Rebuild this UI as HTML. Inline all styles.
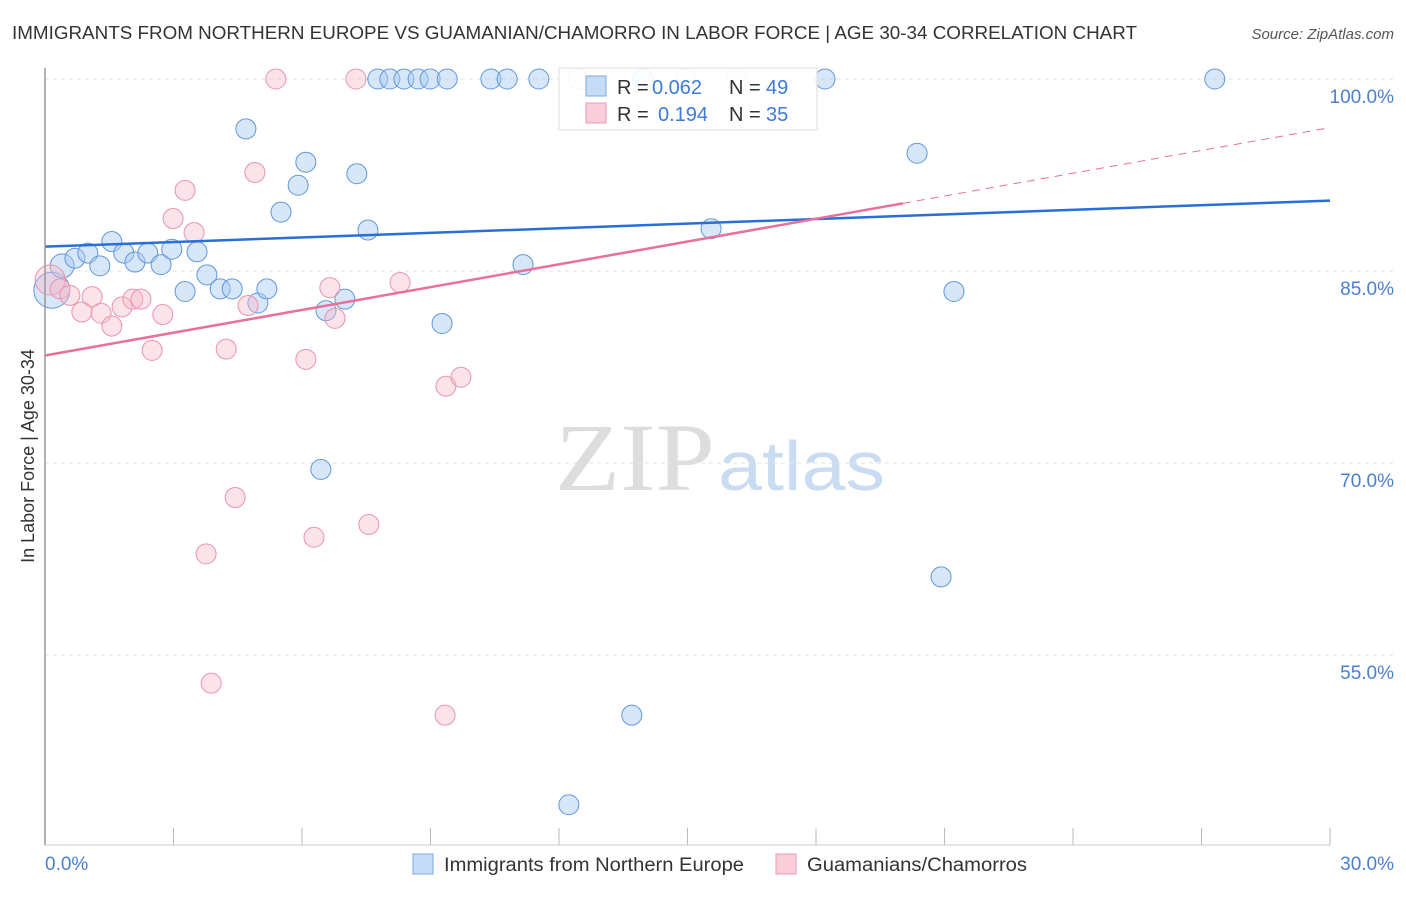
<!DOCTYPE html>
<html><head><meta charset="utf-8"><style>
body{margin:0;background:#fff;font-family:"Liberation Sans",sans-serif}
</style></head><body>
<svg id="c" width="1406" height="892" xmlns="http://www.w3.org/2000/svg" style="font-family:'Liberation Sans',sans-serif">
<text x="12" y="39" font-size="18" fill="#333" textLength="1125" lengthAdjust="spacingAndGlyphs">IMMIGRANTS FROM NORTHERN EUROPE VS GUAMANIAN/CHAMORRO IN LABOR FORCE | AGE 30-34 CORRELATION CHART</text>
<text x="1394" y="39" font-size="15" fill="#555" text-anchor="end" font-style="italic">Source: ZipAtlas.com</text>
<text x="555" y="490" font-size="96" fill="#ddd" textLength="160" lengthAdjust="spacingAndGlyphs" font-family="Liberation Serif,serif">ZIP</text>
<text x="718" y="490" font-size="70" fill="#c9dcf2" textLength="167" lengthAdjust="spacingAndGlyphs">atlas</text>
<text transform="translate(34,456) rotate(-90)" font-size="18" fill="#333" text-anchor="middle">In Labor Force | Age 30-34</text>
<g id="grid"></g><g id="pts"></g><g id="lines"></g>
<line x1="45" y1="68" x2="45" y2="845" stroke="#999" stroke-width="1.5"/>
<line x1="45" y1="845" x2="1330" y2="845" stroke="#ccc"/>
<text x="45" y="870" font-size="19" fill="#4a80d0">0.0%</text>
<text x="1394" y="870" font-size="19" fill="#4a80d0" text-anchor="end">30.0%</text>
<g>
<rect x="413" y="854" width="20" height="20" fill="#c5dbf6" stroke="#7aa8e0"/>
<text x="444" y="871" font-size="19" fill="#333" textLength="300" lengthAdjust="spacingAndGlyphs">Immigrants from Northern Europe</text>
<rect x="776" y="854" width="20" height="20" fill="#f9cdd9" stroke="#eb9ab2"/>
<text x="807" y="871" font-size="19" fill="#333" textLength="220" lengthAdjust="spacingAndGlyphs">Guamanians/Chamorros</text>
</g>
<g font-size="20">
<rect x="559" y="68" width="258" height="62" fill="#fff" fill-opacity="0.9" stroke="#ddd"/>
<rect x="586" y="76" width="20" height="20" fill="#c5dbf6" stroke="#7aa8e0"/>
<text x="617" y="94" fill="#333">R =</text><text x="652" y="94" fill="#3d7bd6">0.062</text>
<text x="729" y="94" fill="#333">N =</text><text x="766" y="94" fill="#3d7bd6">49</text>
<rect x="586" y="103" width="20" height="20" fill="#f9cdd9" stroke="#eb9ab2"/>
<text x="617" y="121" fill="#333">R =</text><text x="658" y="121" fill="#3d7bd6">0.194</text>
<text x="729" y="121" fill="#333">N =</text><text x="766" y="121" fill="#3d7bd6">35</text>
</g>
</svg>
<script>
const yTicks=[100,85,70,55];
const blueX=[0.16,0.40,0.70,1.00,1.28,1.56,1.84,2.10,2.40,2.71,2.96,3.27,3.55,3.78,4.09,4.37,4.69,4.97,5.18,5.51,5.91,6.09,6.44,6.56,7.00,7.28,7.54,7.77,8.05,8.38,8.71,8.99,9.39,9.27,10.41,10.79,11.16,11.53,12.23,13.70,13.96,15.55,18.21,20.36,20.92,21.22,27.31];
const blueY=[83.5,85.4,86.0,86.4,85.4,87.3,86.4,85.7,86.4,85.5,86.7,83.4,86.5,84.7,83.6,83.6,96.1,82.5,83.6,89.6,91.7,93.5,69.5,81.9,82.8,92.6,88.2,100,100,100,100,100,100,80.9,100,100,85.5,100,43.3,50.3,100,88.3,100,94.2,61.1,83.4,100];
const blueR=[18,12,10,10,10,10,10,10,10,10,10,10,10,10,10,10,10,10,10,10,10,10,10,10,10,10,10,10,10,10,10,10,10,10,10,10,10,10,10,10,10,10,10,10,10,10,10];
const pinkX=[0.12,0.35,0.58,0.86,1.10,1.31,1.56,1.80,2.05,2.24,2.50,2.75,2.99,3.27,3.48,3.76,3.88,4.23,4.44,4.74,4.90,5.39,6.09,6.28,6.65,6.77,7.26,7.56,8.29,9.36,9.34,9.71,12.44,14.96,16.16];
const pinkY=[84.3,83.6,83.1,81.8,83.0,81.7,80.7,82.2,82.8,82.8,78.8,81.6,89.1,91.3,88.0,62.9,52.8,78.9,67.3,82.3,92.7,100,78.1,64.2,83.7,81.3,100,65.2,84.1,76.0,50.3,76.7,100,100,100];
const pinkR=[15,10,10,10,10,10,10,10,10,10,10,10,10,10,10,10,10,10,10,10,10,10,10,10,10,10,10,10,10,10,10,10,10,10,10];
const blueTrend=[86.9,90.5];
const pinkTrend=[78.4,96.2];
const pinkSolidEnd=20.03;
const sx=v=>45+v/30*1285, sy=v=>79+(100-v)*12.8;
const NS="http://www.w3.org/2000/svg";
function mk(tag,attrs,parent){const e=document.createElementNS(NS,tag);for(const k in attrs)e.setAttribute(k,attrs[k]);document.getElementById(parent).appendChild(e);return e;}
yTicks.forEach(t=>{
 const l=mk('line',{x1:45,x2:1394,y1:sy(t),y2:sy(t),stroke:'#e2e2e2','stroke-dasharray':'4,4'},'grid');
 
 
 const tx=mk('text',{x:1394,y:sy(t)+24,'font-size':19,fill:'#4a80d0','text-anchor':'end'},'grid');
 tx.textContent=t.toFixed(1)+'%';
 
 
});
for(let i=1;i<=10;i++){
 const x=45+i*128.5;
 const l=mk('line',{x1:x,x2:x,y1:828,y2:845,stroke:'#bbb'},'grid');
 
 
}
blueX.forEach((x,i)=>{
 const c=mk('circle',{cx:sx(x),cy:sy(blueY[i]),r:blueR[i],fill:'#a9c9f0','fill-opacity':0.45,stroke:'#5f97dd','stroke-width':1},'pts');
 
 
});
pinkX.forEach((x,i)=>{
 const c=mk('circle',{cx:sx(x),cy:sy(pinkY[i]),r:pinkR[i],fill:'#f5b8ca','fill-opacity':0.4,stroke:'#ea93ad','stroke-width':1},'pts');
 
 
});
const bl=mk('line',{x1:sx(0),y1:sy(blueTrend[0]),x2:sx(30),y2:sy(blueTrend[1]),stroke:'#2a6fd6','stroke-width':2.5},'lines');


const pAt=x=>pinkTrend[0]+(pinkTrend[1]-pinkTrend[0])*x/30;
const pl=mk('line',{x1:sx(0),y1:sy(pAt(0)),x2:sx(pinkSolidEnd),y2:sy(pAt(pinkSolidEnd)),stroke:'#e8709a','stroke-width':2.5},'lines');


const pd=mk('line',{x1:sx(pinkSolidEnd),y1:sy(pAt(pinkSolidEnd)),x2:sx(30),y2:sy(pAt(30)),stroke:'#e8709a','stroke-width':1,'stroke-dasharray':'8,6'},'lines');


</script>
</body></html>
